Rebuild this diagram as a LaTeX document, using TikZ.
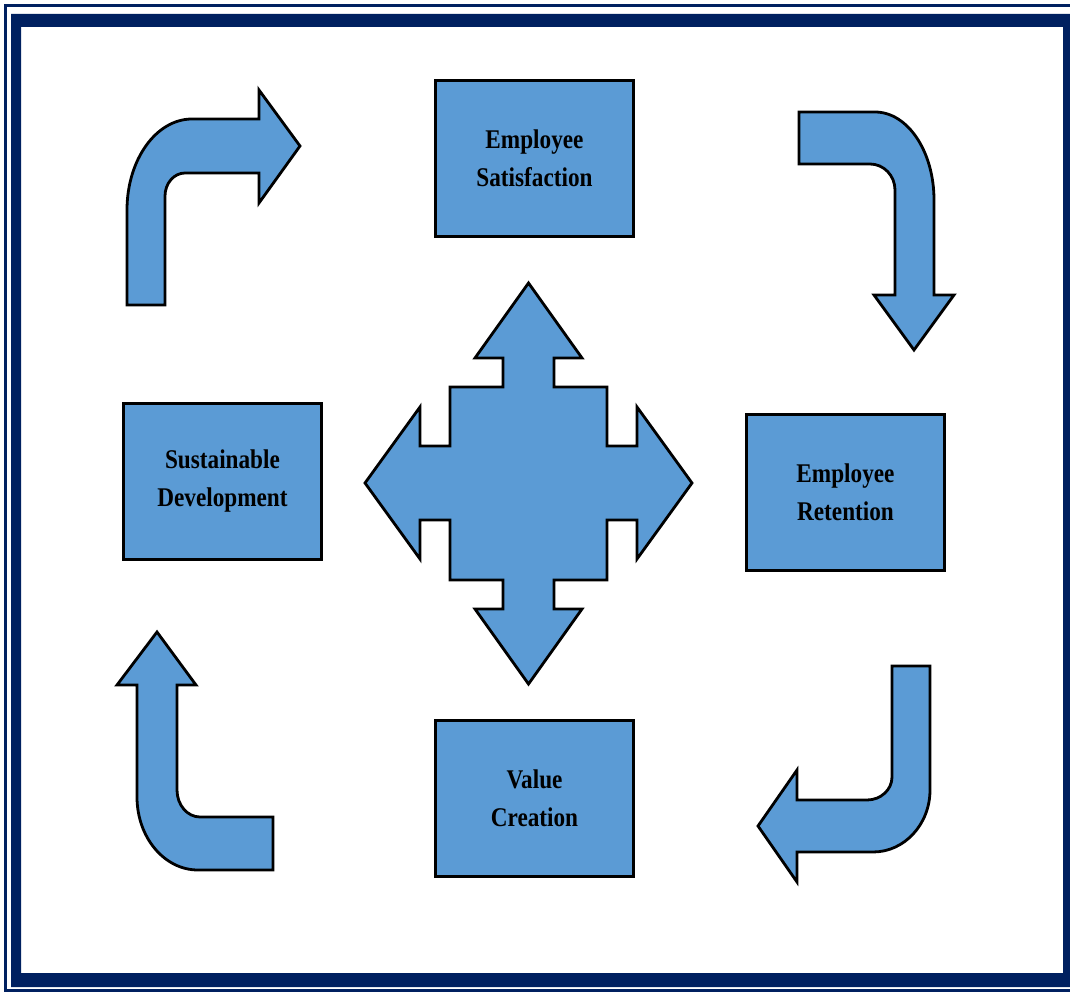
\documentclass[tikz,border=0pt]{standalone}
\usepackage{fontspec}
\newfontfamily\labelfont{Liberation Serif}[FakeStretch=0.86]
\definecolor{navy}{HTML}{002060}
\definecolor{shapeblue}{HTML}{5B9BD5}
\tikzset{
  box/.style={draw=black, line width=3pt, fill=shapeblue,
    minimum width=198pt, minimum height=156pt, align=center,
    inner sep=0pt, text=black,
    font=\labelfont\bfseries\fontsize{27}{38}\selectfont},
  shapearrow/.style={draw=black, line width=2.8pt, fill=shapeblue, line join=miter}
}
\begin{document}
\begin{tikzpicture}[x=1pt, y=-1pt]
\useasboundingbox (0,0) rectangle (1070,992);
\clip (0,0) rectangle (1070,992);

% double frame
\draw[navy, line width=3pt] (5.5,5.5) rectangle (1090,990);
\fill[navy, even odd rule] (11,14) rectangle (1085,987) (21,27) rectangle (1063,973);

% the four boxes
\node[box] (sat) at (534.5,158.5) {Employee\\Satisfaction};
\node[box] (ret) at (845.5,492) {Employee\\Retention};
\node[box] (val) at (534.5,798) {Value\\Creation};
\node[box] (sus) at (222.5,481) {Sustainable\\Development};

% central four-way arrow
\draw[shapearrow] (528.5,283) -- (582,358) -- (554,358) -- (554,387) -- (607,387)
  -- (607,446) -- (637,446) -- (637,407) -- (692,483) -- (637,559) -- (637,520)
  -- (607,520) -- (607,580) -- (554,580) -- (554,609) -- (582,609) -- (528.5,684)
  -- (475,609) -- (503,609) -- (503,580) -- (450,580) -- (450,520) -- (420,520)
  -- (420,559) -- (365,483) -- (420,407) -- (420,446) -- (450,446) -- (450,387)
  -- (503,387) -- (503,358) -- (475,358) -- cycle;

% bent arrow, upper left
\draw[shapearrow] (127,305) -- (127,210)
  .. controls (127,159.8) and (156.1,119) .. (192,119)
  -- (259,119) -- (259,90) -- (300,146) -- (259,203) -- (259,173) -- (185,173)
  .. controls (174,173) and (165,183.3) .. (165,196)
  -- (165,305) -- cycle;

% bent arrow, upper right
\draw[shapearrow] (799,112) -- (875,112)
  .. controls (907.6,112) and (934,151.4) .. (934,200)
  -- (934,295) -- (954,295) -- (914,350) -- (874,295) -- (895,295) -- (895,190)
  .. controls (895,175.6) and (883.8,164) .. (870,164)
  -- (799,164) -- cycle;

% bent arrow, lower right
\draw[shapearrow] (892,666) -- (930,666) -- (930,790)
  .. controls (930,824.2) and (904.5,852) .. (873,852)
  -- (797,852) -- (797,882) -- (758,826) -- (797,770) -- (797,800) -- (867,800)
  .. controls (880.8,800) and (892,789.7) .. (892,777)
  -- cycle;

% bent arrow, lower left
\draw[shapearrow] (273,817) -- (200,817)
  .. controls (187.3,817) and (177,804.9) .. (177,790)
  -- (177,685) -- (196,685) -- (157,632) -- (117,685) -- (137,685) -- (137,797)
  .. controls (137,837.3) and (164.3,870) .. (198,870)
  -- (273,870) -- cycle;
\end{tikzpicture}
\end{document}
